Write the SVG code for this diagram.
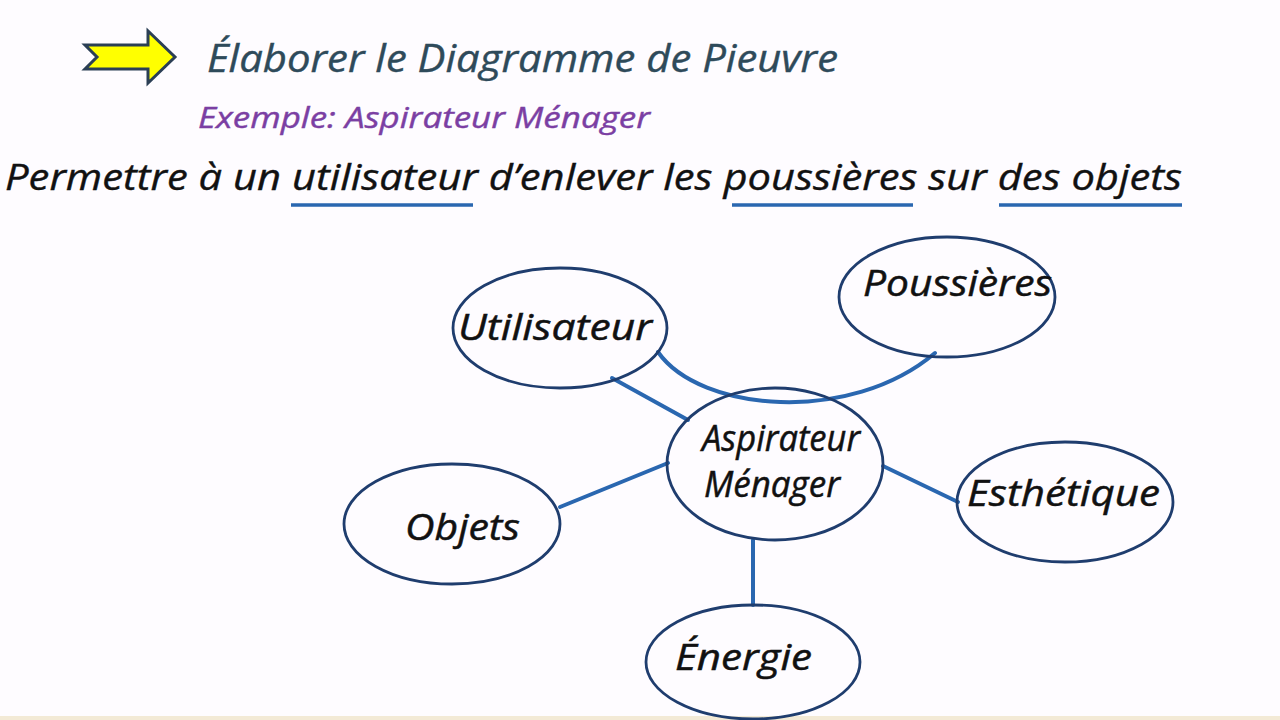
<svg xmlns="http://www.w3.org/2000/svg" width="1280" height="720" viewBox="0 0 1280 720">
<style>
text{font-family:"Open Sans","Noto Sans","Liberation Sans",sans-serif;font-style:italic}
.node{fill:none;stroke:#1f3d6e;stroke-width:2.8}
.lbl{fill:#111111;stroke:#111111;stroke-width:0.5;font-size:37px}
.con{fill:none;stroke:#2a67b0;stroke-width:4;stroke-linecap:round}
.ul{stroke:#2a67b0;stroke-width:3.5}
</style>
<rect width="1280" height="720" fill="#fefcff"/>
<rect x="0" y="716" width="1280" height="4" fill="#f3ead6"/>
<g id="header">
<polygon points="85,45 148,45 148,31 175,57 148,83 148,69 85,69 97,57" fill="#ffff00" stroke="#2b3f55" stroke-width="3" stroke-linejoin="miter"/>
<text x="207" y="72" font-size="38" fill="#2e4a5a" stroke="#2e4a5a" stroke-width="0.4" textLength="631" lengthAdjust="spacingAndGlyphs">Élaborer le Diagramme de Pieuvre</text>
<text x="198" y="128" font-size="29" fill="#7b3fa3" stroke="#7b3fa3" stroke-width="0.4" textLength="452" lengthAdjust="spacingAndGlyphs">Exemple: Aspirateur  Ménager</text>
<text x="5" y="190" font-size="37" fill="#111111" stroke="#111111" stroke-width="0.4" textLength="1177" lengthAdjust="spacingAndGlyphs">Permettre à un utilisateur d’enlever les poussières sur des objets</text>
<line class="ul" x1="291" y1="205" x2="473" y2="205"/>
<line class="ul" x1="732" y1="205" x2="913" y2="205"/>
<line class="ul" x1="999" y1="205" x2="1182" y2="205"/>
</g>
<g id="connectors">
<line class="con" x1="612" y1="378" x2="688" y2="420"/>
<path class="con" d="M658,352 C700,412 850,425 935,353"/>
<line class="con" x1="560" y1="507" x2="668" y2="463"/>
<line class="con" x1="883" y1="466" x2="958" y2="502"/>
<line class="con" x1="753" y1="540" x2="753" y2="605"/>
</g>
<g id="utilisateur">
<ellipse class="node" cx="560" cy="328" rx="107" ry="60"/>
<text class="lbl" x="458" y="340" textLength="194" lengthAdjust="spacingAndGlyphs">Utilisateur</text>
</g>
<g id="poussieres">
<ellipse class="node" cx="947" cy="297" rx="108" ry="60"/>
<text class="lbl" x="863" y="296" textLength="189" lengthAdjust="spacingAndGlyphs">Poussières</text>
</g>
<g id="aspirateur">
<ellipse class="node" cx="775" cy="464" rx="108" ry="76"/>
<text class="lbl" x="702" y="451" font-size="29" textLength="158" lengthAdjust="spacingAndGlyphs">Aspirateur</text>
<text class="lbl" x="704" y="497" font-size="29" textLength="136" lengthAdjust="spacingAndGlyphs">Ménager</text>
</g>
<g id="objets">
<ellipse class="node" cx="452" cy="524" rx="108" ry="60"/>
<text class="lbl" x="405" y="540" textLength="115" lengthAdjust="spacingAndGlyphs">Objets</text>
</g>
<g id="esthetique">
<ellipse class="node" cx="1065" cy="502" rx="108" ry="60"/>
<text class="lbl" x="967" y="506" textLength="193" lengthAdjust="spacingAndGlyphs">Esthétique</text>
</g>
<g id="energie">
<ellipse class="node" cx="753" cy="662" rx="107" ry="57"/>
<text class="lbl" x="675" y="670" textLength="137" lengthAdjust="spacingAndGlyphs">Énergie</text>
</g>
</svg>
